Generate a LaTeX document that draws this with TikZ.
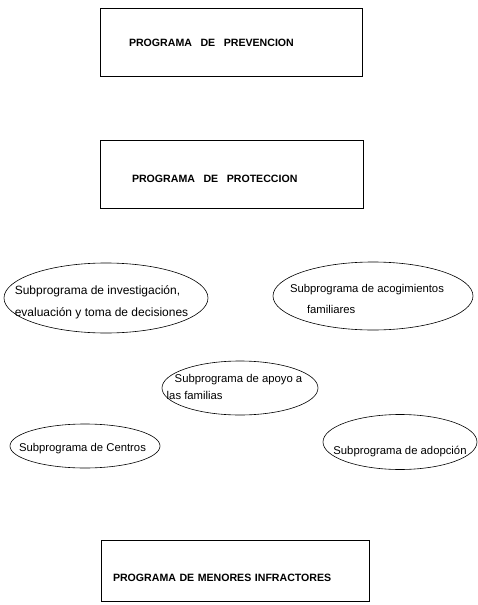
\documentclass[tikz,border=0pt]{standalone}
\usepackage{fontspec}
\setmainfont{Liberation Sans}
\usetikzlibrary{shapes.geometric}
% text of a subprograma, put into the ellipse without widening it
\newcommand{\elltext}[3]{\smash{\makebox[0pt]{\kern#1\raisebox{#2}{%
  \begin{tabular}[c]{@{}l@{}}#3\end{tabular}}\kern-#1}}}
\begin{document}
\begin{tikzpicture}[x=1pt,y=-1pt,
    programa/.style={draw,line width=0.6pt,rectangle,inner ysep=0pt,align=left,
      font=\fontsize{10.6}{13}\selectfont\bfseries,text depth=0pt},
    subprograma/.style={draw,line width=0.6pt,ellipse,inner sep=0pt,
      font=\fontsize{11.3}{21}\selectfont}]
      \useasboundingbox (0,0) rectangle (478,605);
      % programas
      \node[programa,minimum width=262pt,minimum height=68pt,inner xsep=29pt,
        text width=204pt,text height=8pt] (prevencion) at (231,42)
        {PROGRAMA\hspace{5pt} DE\hspace{5pt} PREVENCION};
      \node[programa,minimum width=263pt,minimum height=68pt,inner xsep=32pt,
        text width=199pt,text height=16pt] (proteccion) at (231.5,174)
        {PROGRAMA\hspace{5pt} DE\hspace{5pt} PROTECCION};
      \node[programa,minimum width=268pt,minimum height=61pt,inner xsep=12pt,
        text width=244pt,text height=21pt] (infractores) at (235,570.5)
        {PROGRAMA DE MENORES INFRACTORES};
      % subprogramas de proteccion
      \node[subprograma,minimum width=204pt,minimum height=70pt,
        font=\fontsize{12}{22}\selectfont] (investigacion) at (106,298)
        {\elltext{-4.5pt}{-6pt}{Subprograma de investigación,\\evaluación y toma de decisiones}};
      \node[subprograma,minimum width=200pt,minimum height=68pt] (acogimientos) at (373,296)
        {\elltext{-6pt}{-6pt}{Subprograma de acogimientos\\\hspace*{17pt}familiares}};
      \node[subprograma,minimum width=156pt,minimum height=54pt] (apoyo) at (240,388)
        {\elltext{-5.5pt}{-1.5pt}{\hspace*{8pt}Subprograma de apoyo a\\[-4pt]las familias}};
      \node[subprograma,minimum width=150pt,minimum height=44pt] (centros) at (85,446)
        {\elltext{-2.5pt}{-4pt}{Subprograma de Centros}};
      \node[subprograma,minimum width=154pt,minimum height=55pt] (adopcion) at (400,442)
        {\elltext{0pt}{-11pt}{Subprograma de adopción}};
    \end{tikzpicture}
\end{document}
